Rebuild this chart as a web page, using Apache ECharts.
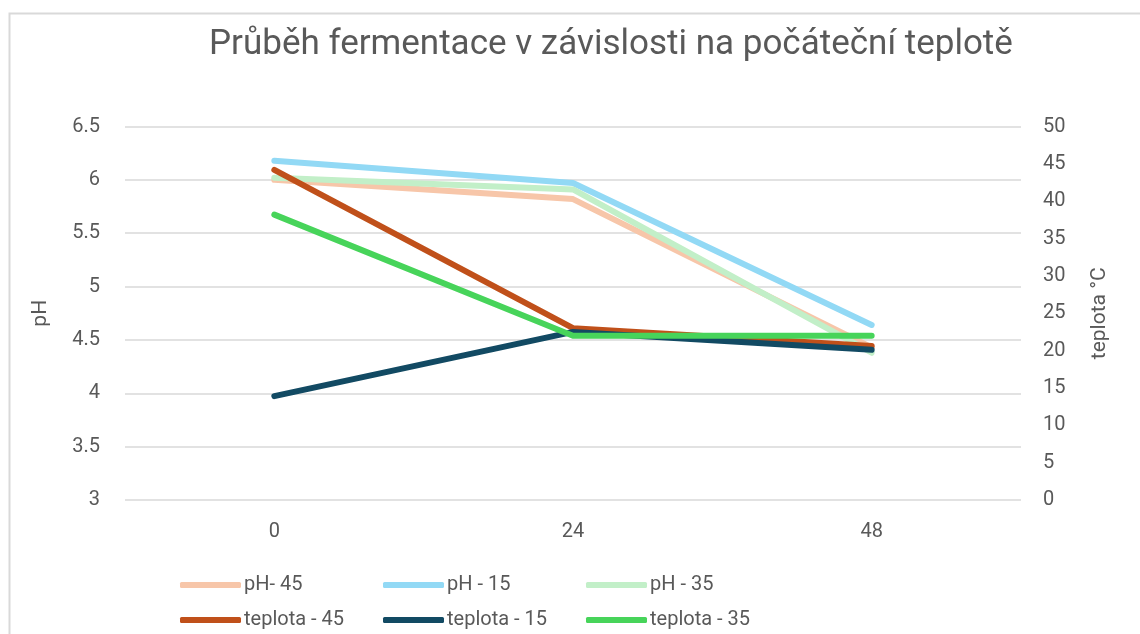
<!DOCTYPE html>
<html><head><meta charset="utf-8">
<script src="https://cdn.jsdelivr.net/npm/echarts@6/dist/echarts.min.js"></script>
<style>html,body{margin:0;padding:0;background:#fff}#c{width:1140px;height:634px}</style>
</head><body><div id="c"></div>
<script>
const categories = ['0', '24', '48'];
const phTicks = [3, 6.5, 0.5];
const tempTicks = [0, 50, 5];
const pH45 = [6.0, 5.82, 4.43];
const pH15 = [6.18, 5.97, 4.64];
const pH35 = [6.02, 5.91, 4.38];
const t45 = [44.2, 23.0, 20.6];
const t15 = [13.9, 22.5, 20.1];
const t35 = [38.2, 22.0, 22.0];
const names = ['pH- 45', 'pH - 15', 'pH - 35', 'teplota - 45', 'teplota - 15', 'teplota - 35'];
const colors = ['#F7C6A9', '#92D9F5', '#C2EFC8', '#C0501A', '#124A63', '#47D45A'];

const font = 'Roboto';
const txt = '#595959';
const chart = echarts.init(document.getElementById('c'));
function ser(i, data, yIdx) {
  return {
    name: names[i], type: 'line', data: data, yAxisIndex: yIdx,
    symbol: 'none', smooth: false,
    lineStyle: { color: colors[i], width: 6, cap: 'round', join: 'round' },
    itemStyle: { color: colors[i] },
    emphasis: { disabled: true }
  };
}
const legendBase = {
  icon: 'roundRect', itemWidth: 61, itemHeight: 6, itemGap: 0,
  textStyle: { color: txt, fontFamily: font, fontSize: 20, width: 139, lineHeight: 22, padding: [0,0,0,-2] },
  left: 175
};
chart.setOption({
  animation: false,
  backgroundColor: '#fff',
  title: {
    text: 'Průběh fermentace v závislosti na počáteční teplotě',
    left: 204, top: 23,
    textStyle: { color: txt, fontFamily: font, fontSize: 35, fontWeight: 'normal' }
  },
  graphic: [{
    type: 'rect', shape: { x: 9.5, y: 13.5, width: 1200, height: 700 },
    style: { fill: 'none', stroke: '#d9d9d9', lineWidth: 2 }, silent: true
  }],
  legend: [
    Object.assign({}, legendBase, { top: 569, data: names.slice(0, 3) }),
    Object.assign({}, legendBase, { top: 604, data: names.slice(3, 6) })
  ],
  grid: { left: 125, right: 119, top: 126.5, bottom: 134, containLabel: false },
  xAxis: {
    type: 'category', data: categories, boundaryGap: true,
    axisLine: { show: false }, axisTick: { show: false },
    axisLabel: { color: txt, fontFamily: font, fontSize: 20, margin: 22 }
  },
  yAxis: [{
    type: 'value', min: phTicks[0], max: phTicks[1], interval: phTicks[2],
    name: 'pH', nameLocation: 'middle', nameGap: 74, nameRotate: 90,
    nameTextStyle: { color: txt, fontFamily: font, fontSize: 21 },
    axisLine: { show: false }, axisTick: { show: false },
    axisLabel: { color: txt, fontFamily: font, fontSize: 20, margin: 25 },
    splitLine: { lineStyle: { color: '#d9d9d9', width: 1.5 } }
  }, {
    type: 'value', min: tempTicks[0], max: tempTicks[1], interval: tempTicks[2],
    position: 'right',
    name: 'teplota °C', nameLocation: 'middle', nameGap: 68, nameRotate: 90,
    nameTextStyle: { color: txt, fontFamily: font, fontSize: 21 },
    axisLine: { show: false }, axisTick: { show: false },
    axisLabel: { color: txt, fontFamily: font, fontSize: 20, margin: 22 },
    splitLine: { show: false }
  }],
  series: [
    ser(0, pH45, 0), ser(1, pH15, 0), ser(2, pH35, 0),
    ser(3, t45, 1), ser(4, t15, 1), ser(5, t35, 1)
  ]
});
</script></body></html>
